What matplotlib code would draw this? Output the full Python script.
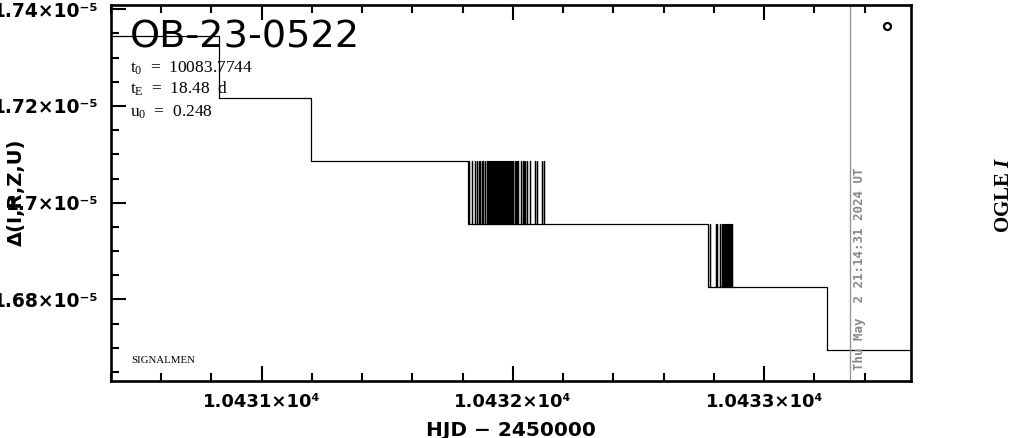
import matplotlib
matplotlib.use("Agg")
import matplotlib.pyplot as plt
from matplotlib.ticker import MultipleLocator, FuncFormatter

# model difference levels (the curve only takes these values)
levels = [1.73444e-5, 1.72157e-5, 1.70862e-5, 1.69560e-5, 1.68258e-5, 1.66957e-5]
# HJD - 2450000 where the curve drops to the next level
step_hjd = [10430.8309, 10431.1970, 10431.8197, 10432.7780, 10433.2503]
# moments where the curve flicks back up to the previous level
flicker1_hjd = [10431.8269, 10431.8357, 10431.8484, 10431.8583, 10431.8635,
                10431.8707, 10431.8782, 10431.8822, 10431.8882, 10431.8981,
                10431.9025, 10431.9065, 10431.9101, 10431.9132, 10431.9172,
                10431.9220, 10431.9264, 10431.9300, 10431.9331, 10431.9371,
                10431.9403, 10431.9439, 10431.9471, 10431.9507, 10431.9542,
                10431.9578, 10431.9610, 10431.9650, 10431.9690, 10431.9721,
                10431.9761, 10431.9797, 10431.9833, 10431.9873, 10431.9912,
                10431.9948, 10432.0020, 10432.0095, 10432.0139, 10432.0179,
                10432.0219, 10432.0326, 10432.0414, 10432.0458, 10432.0493,
                10432.0553, 10432.0685, 10432.0883, 10432.0951, 10432.1150,
                10432.1253]
flicker2_hjd = [10432.7839, 10432.8098, 10432.8134, 10432.8257, 10432.8333,
                10432.8373, 10432.8412, 10432.8444, 10432.8476, 10432.8508,
                10432.8539, 10432.8571, 10432.8603, 10432.8635, 10432.8667,
                10432.8703]
hjd_start, hjd_end = 10430.30, 10433.70
now_hjd = 10433.3430  # grey "now" marker

event = "OB-23-0522"
params = [r"t$_\mathrm{0}$  =  10083.7744", r"t$_\mathrm{E}$  =  18.48  d", r"u$_\mathrm{0}$  =  0.248"]
stamp = "Thu May  2 21:14:31 2024 UT"

plt.rcParams["mathtext.fontset"] = "custom"
plt.rcParams["mathtext.rm"] = "Liberation Serif"
plt.rcParams["mathtext.it"] = "Liberation Serif:italic:bold"

# build the polyline from the steps + flickers
xs, ys = [hjd_start], [levels[0]]
flick = {2: flicker1_hjd, 3: flicker2_hjd}
for i, t in enumerate(step_hjd):
    xs += [t, t]
    ys += [levels[i], levels[i + 1]]
    for tf in flick.get(i, []):
        xs += [tf, tf, tf]
        ys += [levels[i + 1], levels[i], levels[i + 1]]
xs.append(hjd_end)
ys.append(levels[-1])

fig = plt.figure(figsize=(10.14, 4.38), dpi=100)
ax = fig.add_axes([0.1092, 0.1308, 0.7889, 0.8578])
ax.plot(xs, ys, color="black", lw=0.9)
ax.axvline(now_hjd, color="#999999", lw=1.0)

ax.set_xlim(10430.40, 10433.583)
ax.set_ylim(1.66322e-5, 1.74085e-5)
ax.xaxis.set_major_locator(MultipleLocator(1))
ax.xaxis.set_minor_locator(MultipleLocator(0.2))
ax.yaxis.set_major_locator(MultipleLocator(0.02e-5))
ax.yaxis.set_minor_locator(MultipleLocator(0.005e-5))
ax.xaxis.set_major_formatter(FuncFormatter(lambda v, p: f"{v / 1e4:.4f}×10⁴"))
ax.yaxis.set_major_formatter(FuncFormatter(lambda v, p: f"{round(v / 1e-5, 4):g}×10⁻⁵"))
ax.tick_params(which="both", direction="in", top=True, right=False, width=1.5)
ax.tick_params(which="major", length=10.5, pad=9)
ax.tick_params(axis="x", which="major", labelsize=13)
ax.tick_params(axis="y", which="major", labelsize=13.5)
ax.tick_params(which="minor", length=5.5)
for lab in ax.get_xticklabels() + ax.get_yticklabels():
    lab.set_fontweight("bold")
for s in ax.spines.values():
    s.set_linewidth(1.9)

ax.text(0.024, 0.888, event, transform=ax.transAxes, fontsize=27.5, va="baseline")
for k, txt in enumerate(params):
    ax.text(0.024, [0.819, 0.763, 0.702][k], txt, transform=ax.transAxes,
            fontsize=12.5, family="Liberation Serif", va="baseline")
ax.text(0.026, 0.047, "SIGNALMEN", transform=ax.transAxes, fontsize=7.8,
        family="Liberation Serif", va="baseline")
ax.text(0.9366, 0.028, stamp, transform=ax.transAxes, rotation=90, fontsize=8.9,
        family="DejaVu Sans Mono", fontweight="bold", color="#888888",
        ha="center", va="bottom")
ax.plot([0.97], [0.944], marker="o", ms=5, mfc="white", mec="black", mew=1.6,
        transform=ax.transAxes)

fig.text(511 / 1014, 1 - 436 / 438, "HJD − 2450000", ha="center", va="baseline",
         fontsize=14.5, fontweight="bold")
fig.text(16 / 1014, 1 - 192 / 438, "Δ(I,R,Z,U)", rotation=90, ha="center",
         va="center", fontsize=14, fontweight="bold")
fig.text(1004 / 1014, 1 - 195 / 438, r"OGLE $\mathit{I}$", rotation=90, ha="center",
         va="center", fontsize=15, family="Liberation Serif", fontweight="bold")

fig.savefig("out.png", dpi=100)
